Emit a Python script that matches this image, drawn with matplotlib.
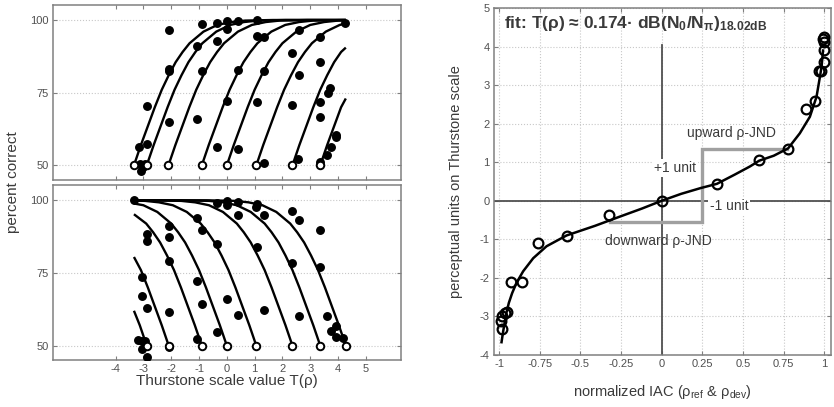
import matplotlib
matplotlib.use("Agg")
from matplotlib import pyplot

pyplot.rcParams["font.family"] = ["Liberation Sans", "DejaVu Sans"]
pyplot.rcParams["axes.unicode_minus"] = False
pyplot.rcParams["mathtext.fontset"] = "custom"
pyplot.rcParams["mathtext.rm"] = "Liberation Sans"
pyplot.rcParams["mathtext.it"] = "Liberation Sans:italic"
pyplot.rcParams["mathtext.bf"] = "Liberation Sans:bold"

# ---- left panels: psychometric functions (percent correct vs Thurstone value)
left_xticks = [-4, -3, -2, -1, 0, 1, 2, 3, 4, 5]
left_yticks = [50, 75, 100]

# upward comparisons (top panel)
up_ref = [-3.34, -2.88, -2.10, -0.90, 0.00, 1.06, 2.36, 3.36]
up_x = [
    [-3.34, -3.09, -2.84, -2.59, -2.34, -2.09, -1.84, -1.59, -1.34, -0.84, -0.34, 0.16, 0.66, 1.66, 4.28],
    [-2.88, -2.63, -2.38, -2.13, -1.88, -1.63, -1.38, -1.13, -0.88, -0.38, 0.12, 0.62, 1.12, 2.12, 4.28],
    [-2.10, -1.85, -1.60, -1.35, -1.10, -0.85, -0.60, -0.35, -0.10, 0.40, 0.90, 1.40, 1.90, 2.90, 4.28],
    [-0.90, -0.65, -0.40, -0.15, 0.10, 0.35, 0.60, 0.85, 1.10, 1.60, 2.10, 2.60, 3.10, 4.28],
    [0.00, 0.25, 0.50, 0.75, 1.00, 1.25, 1.50, 1.75, 2.00, 2.50, 3.00, 3.50, 4.00, 4.28],
    [1.06, 1.31, 1.56, 1.81, 2.06, 2.31, 2.56, 2.81, 3.06, 3.56, 4.06, 4.28],
    [2.36, 2.61, 2.86, 3.11, 3.36, 3.61, 3.86, 4.11, 4.28],
    [3.36, 3.61, 3.86, 4.11, 4.28],
]
up_y = [
    [50, 57, 63.5, 70, 76, 81, 85.5, 89, 92, 96, 98.3, 99.3, 99.8, 100, 100],
    [50, 57, 63.5, 70, 76, 81, 85.5, 89, 92, 96, 98.3, 99.3, 99.8, 100, 100],
    [50, 57, 63.5, 70, 76, 81, 85.5, 89, 92, 96, 98.3, 99.3, 99.8, 100, 100],
    [50, 57, 63.5, 70, 76, 81, 85.5, 89, 92, 96, 98.3, 99.3, 99.8, 100],
    [50, 57, 63.5, 70, 76, 81, 85.5, 89, 92, 96, 98.3, 99.3, 99.8, 99.9],
    [50, 57, 63.5, 70, 76, 81, 85.5, 89, 92, 96, 98.3, 98.8],
    [50, 57, 63.5, 70, 76, 81, 85.5, 89, 90.5],
    [50, 57, 63.5, 70, 73],
]
up_dot_x = [-3.16, -2.86, -2.86, -3.12, -3.08, -3.02, -2.95, -2.07, -2.07, -2.09, -2.07,
            -0.90, -0.36, 0.00, 0.42, 1.08, -1.06, -0.36, 0.00, -0.90, -1.08, -0.36, 0.00,
            0.42, 0.42, 1.08, 1.35, 1.08, 1.35, 1.34, 2.60, 3.36, 2.36, 3.36, 2.60, 2.36,
            3.36, 3.36, 3.72, 3.64, 3.94, 3.94, 3.74, 3.60, 3.36, 2.57, 4.26]
up_dot_y = [56.4, 57.3, 70.4, 50.6, 48.0, 49.3, 50.5, 96.6, 82.6, 83.2, 65.0,
            98.6, 99.0, 99.7, 99.7, 99.9, 91.1, 92.8, 96.8, 82.6, 65.8, 56.2, 72.2,
            82.8, 55.6, 94.6, 94.1, 71.7, 82.4, 50.7, 96.7, 94.1, 88.5, 85.4, 81.1, 70.7,
            71.8, 66.6, 76.7, 74.9, 60.6, 59.6, 56.3, 53.7, 51.3, 52.3, 99.0]

# downward comparisons (bottom panel)
dn_ref = [-2.88, -2.09, -0.90, 0.00, 1.06, 2.36, 3.36, 4.28]
dn_x = [
    [-2.88, -3.13, -3.34],
    [-2.09, -2.34, -2.59, -2.84, -3.09, -3.34],
    [-0.90, -1.15, -1.40, -1.65, -1.90, -2.15, -2.40, -2.65, -2.90, -3.34],
    [0.00, -0.25, -0.50, -0.75, -1.00, -1.25, -1.50, -1.75, -2.00, -2.50, -3.00, -3.34],
    [1.06, 0.81, 0.56, 0.31, 0.06, -0.19, -0.44, -0.69, -0.94, -1.44, -1.94, -2.44, -2.94, -3.34],
    [2.36, 2.11, 1.86, 1.61, 1.36, 1.11, 0.86, 0.61, 0.36, -0.14, -0.64, -1.14, -1.64, -2.64, -3.34],
    [3.36, 3.11, 2.86, 2.61, 2.36, 2.11, 1.86, 1.61, 1.36, 0.86, 0.36, -0.14, -0.64, -1.64, -3.34],
    [4.28, 4.03, 3.78, 3.53, 3.28, 3.03, 2.78, 2.53, 2.28, 1.78, 1.28, 0.78, 0.28, -0.72, -3.34],
]
dn_y = [
    [50, 57, 62],
    [50, 57, 63.5, 70, 76, 80.5],
    [50, 57, 63.5, 70, 76, 81, 85.5, 89, 92, 95.2],
    [50, 57, 63.5, 70, 76, 81, 85.5, 89, 92, 96, 98.3, 98.9],
    [50, 57, 63.5, 70, 76, 81, 85.5, 89, 92, 96, 98.3, 99.3, 99.8, 99.9],
    [50, 57, 63.5, 70, 76, 81, 85.5, 89, 92, 96, 98.3, 99.3, 99.8, 100, 100],
    [50, 57, 63.5, 70, 76, 81, 85.5, 89, 92, 96, 98.3, 99.3, 99.8, 100, 100],
    [50, 57, 63.5, 70, 76, 81, 85.5, 89, 92, 96, 98.3, 99.3, 99.8, 100, 100],
]
dn_dot_x = [-3.34, -2.86, -2.86, -2.07, -2.07, -2.07, -2.07, -3.06, -3.06, -2.88, -3.18,
            -3.06, -2.94, -3.06, -2.88, -2.07, -1.08, -0.90, -1.08, -0.90, -1.08, -0.36,
            0.00, 0.42, 0.00, -0.36, 0.00, -0.36, 0.42, 0.42, 1.08, 1.06, 1.34, 1.08, 1.34,
            2.36, 2.60, 3.36, 2.36, 3.36, 2.60, 3.60, 3.94, 3.74, 3.94, 4.17]
dn_dot_y = [100, 88.5, 85.9, 91.1, 87.4, 79.0, 61.7, 73.6, 67.2, 62.9, 52.1,
            51.7, 51.7, 48.9, 46.0, 49.4, 93.9, 89.7, 72.1, 64.4, 52.3, 99.2,
            99.7, 99.4, 98.5, 85.1, 66.1, 54.6, 95.1, 60.6, 98.9, 97.8, 95.1, 83.9, 62.1,
            96.2, 93.3, 89.7, 78.5, 76.9, 60.1, 60.1, 56.9, 54.9, 52.9, 52.6]

# ---- right panel: Thurstone scale vs normalized IAC
iac_x = [-0.985, -0.99, -0.98, -0.965, -0.95, -0.924, -0.862, -0.76, -0.585, -0.323,
         0.005, 0.338, 0.60, 0.778, 0.887, 0.943, 0.97, 0.98, 1.0, 1.0, 1.0, 1.0, 0.995]
iac_y = [-3.34, -3.13, -3.0, -2.91, -2.89, -2.11, -2.11, -1.10, -0.91, -0.36,
         0.0, 0.44, 1.06, 1.34, 2.37, 2.59, 3.38, 3.36, 3.61, 3.91, 4.13, 4.26, 4.20]
fit_x = [-0.985, -0.975, -0.965, -0.955, -0.94, -0.92, -0.893, -0.852, -0.79, -0.708,
         -0.585, -0.41, -0.25, -0.12, 0.0, 0.12, 0.24, 0.34, 0.45, 0.543, 0.60, 0.69,
         0.778, 0.85, 0.912, 0.953, 0.974, 0.984, 0.993]
fit_y = [-3.67, -3.39, -3.15, -2.91, -2.65, -2.40, -2.13, -1.83, -1.49, -1.18,
         -0.90, -0.65, -0.40, -0.20, 0.0, 0.18, 0.33, 0.44, 0.68, 0.89, 1.04, 1.17,
         1.36, 1.75, 2.18, 2.70, 3.22, 3.48, 3.90]
jnd_x = [-0.32, 0.25, 0.25, 0.77]
jnd_y = [-0.55, -0.55, 1.35, 1.35]
right_xticks = [-1, -0.75, -0.5, -0.25, 0, 0.25, 0.5, 0.75, 1]
right_xlabels = ["-1", "-0.75", "-0.5", "-0.25", "0", "0.25", "0.5", "0.75", "1"]
right_yticks = [-4, -3, -2, -1, 0, 1, 2, 3, 4, 5]

frame_c = "#808080"
text_c = "#3a3a3a"
tick_c = "#505050"

fig = pyplot.figure(figsize=(8.34, 4.07), dpi=100)
ax_up = fig.add_axes([0.0636, 0.558, 0.4174, 0.430])
ax_dn = fig.add_axes([0.0636, 0.115, 0.4174, 0.430])
ax_r = fig.add_axes([0.592, 0.128, 0.404, 0.852])


def style(ax):
    for s in ax.spines.values():
        s.set_color(frame_c)
        s.set_linewidth(1.1)
    ax.tick_params(direction="in", top=True, right=True, length=3, width=0.8,
                   color=frame_c, labelsize=8, labelcolor=tick_c, pad=3)


for ax, xs, ys, dx, dy, ref in [(ax_up, up_x, up_y, up_dot_x, up_dot_y, up_ref),
                                (ax_dn, dn_x, dn_y, dn_dot_x, dn_dot_y, dn_ref)]:
    style(ax)
    ax.set_xlim(-6.25, 6.27)
    ax.set_ylim(45, 105.2)
    ax.set_xticks(left_xticks)
    ax.set_yticks(left_yticks)
    ax.yaxis.grid(True, ls=":", color="#c8c8c8", lw=0.8)
    for cx, cy in zip(xs, ys):
        ax.plot(cx, cy, color="k", lw=1.7, solid_capstyle="butt", zorder=2)
    ax.plot(dx, dy, "o", ms=5.4, color="k", mec="k", zorder=3)
    ax.plot(ref, [50] * len(ref), "o", ms=5.4, mfc="w", mec="k", mew=1.4, zorder=4)

ax_up.tick_params(labelbottom=False)
ax_dn.set_xlabel("Thurstone scale value T(ρ)", fontsize=11, color=text_c)
ax_dn.xaxis.set_label_coords(0.5, -0.08)
ax_dn.xaxis.get_label().set_va("top")
fig.text(13 / 834, 1 - 182 / 407, "percent correct", rotation=90, ha="center",
         va="center", fontsize=11, color=text_c)

# right panel
style(ax_r)
ax_r.set_xlim(-1.033, 1.04)
ax_r.set_ylim(-4, 5)
ax_r.set_xticks(right_xticks)
ax_r.set_xticklabels(right_xlabels)
ax_r.set_yticks(right_yticks)
ax_r.grid(True, ls=":", color="#c8c8c8", lw=0.8)
ax_r.set_axisbelow(True)
ax_r.axhline(0, color="#505050", lw=1.3, zorder=1)
ax_r.plot([0, 0], [-4, 4.04], color="#505050", lw=1.3, zorder=1)
ax_r.plot(jnd_x, jnd_y, color="#a0a0a0", lw=2.4, solid_joinstyle="miter", zorder=2)
ax_r.plot(fit_x, fit_y, color="k", lw=1.8, zorder=3)
ax_r.plot(iac_x, iac_y, "o", ms=7, mfc="none", mec="k", mew=1.6, zorder=4)

bb = dict(facecolor="w", edgecolor="none", pad=1.5)
ax_r.text(0.08, 0.85, "+1 unit", ha="center", va="center", fontsize=10,
          color=text_c, bbox=bb, zorder=2.5)
ax_r.text(0.415, -0.14, "-1 unit", ha="center", va="center", fontsize=10,
          color=text_c, bbox=bb, zorder=2.5)
ax_r.text(0.43, 1.75, "upward ρ-JND", ha="center", va="center", fontsize=10,
          color=text_c)
ax_r.text(-0.017, -1.05, "downward ρ-JND", ha="center", va="center", fontsize=10,
          color=text_c)
ax_r.text(0.03, 0.955,
          r"fit: T(ρ) ≈ 0.174· dB(N$_\mathbf{0}$/N$_\mathbf{π}$)$_\mathbf{18.02dB}$",
          transform=ax_r.transAxes, ha="left", va="center", fontsize=12.5,
          fontweight="bold", color=text_c)

ax_r.set_ylabel("perceptual units on Thurstone scale", fontsize=10.5, color=text_c)
ax_r.yaxis.set_label_coords(-0.09, 0.5)
ax_r.set_xlabel(r"normalized IAC (ρ$_\mathregular{ref}$ & ρ$_\mathregular{dev}$)",
                fontsize=10.5, color=text_c)
ax_r.xaxis.set_label_coords(0.5, -0.08)
ax_r.xaxis.get_label().set_va("top")

fig.savefig("out.png", dpi=100, facecolor="w")
